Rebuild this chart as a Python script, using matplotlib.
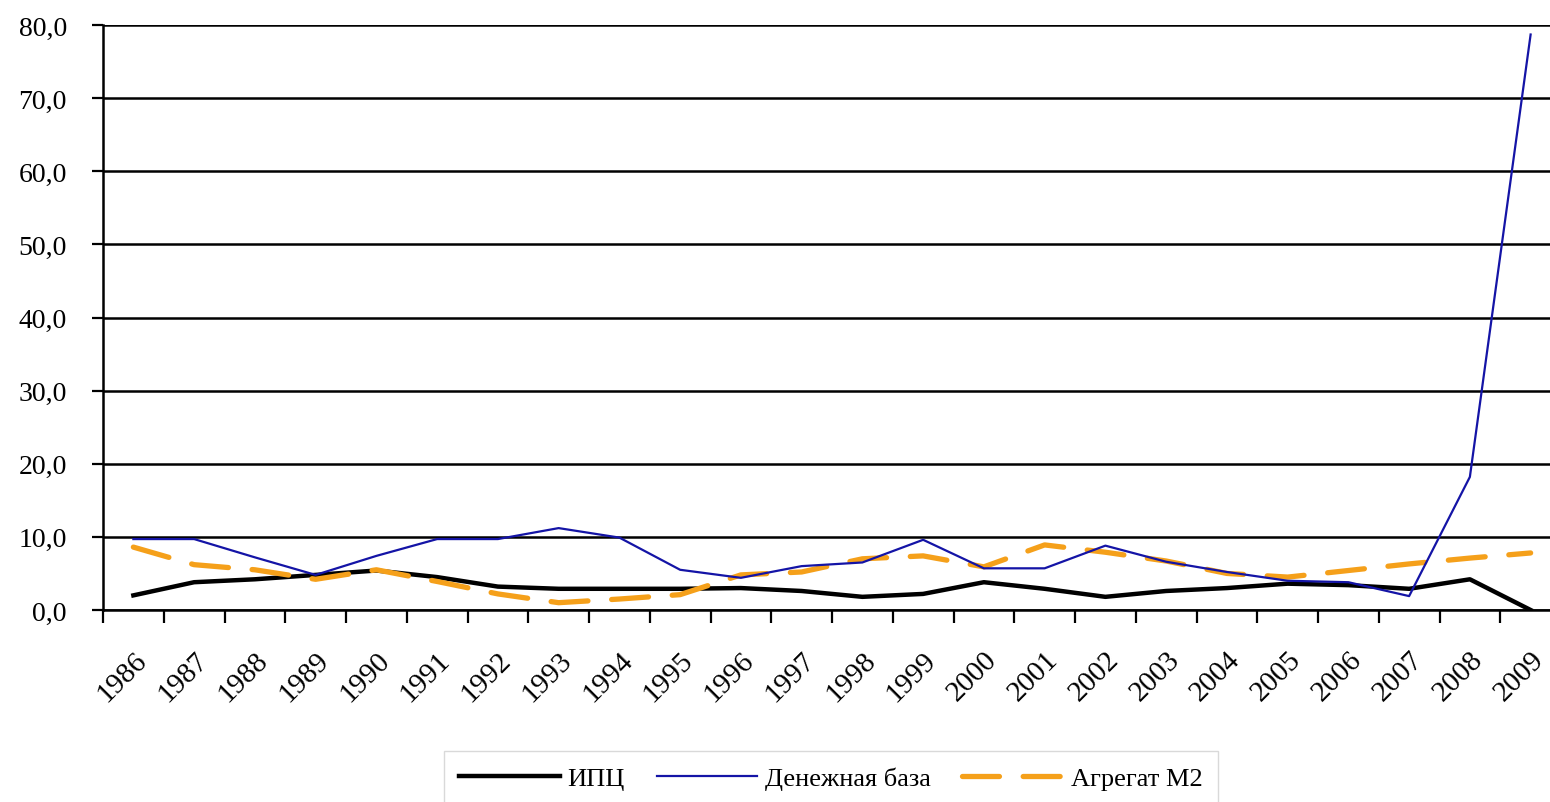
import numpy as np
from matplotlib import pyplot as plt

# Годы и ряды (темпы, %)
years = [str(y) for y in range(1986, 2010)]
cpi = [2.0, 3.8, 4.2, 4.8, 5.4, 4.5, 3.2, 2.9, 2.9, 2.9, 3.0, 2.6,
       1.8, 2.2, 3.8, 2.9, 1.8, 2.6, 3.0, 3.6, 3.4, 2.9, 4.2, 0.0]
money_base = [9.7, 9.7, 7.2, 4.8, 7.4, 9.7, 9.7, 11.2, 9.9, 5.5, 4.4, 6.0,
              6.5, 9.6, 5.7, 5.7, 8.8, 6.6, 5.2, 4.0, 3.8, 1.9, 18.2, 78.7]
m2 = [8.6, 6.2, 5.5, 4.2, 5.5, 3.9, 2.2, 1.0, 1.5, 2.1, 4.8, 5.2,
      7.0, 7.4, 5.9, 8.9, 7.9, 6.7, 5.0, 4.5, 5.4, 6.3, 7.1, 7.8]
labels = ['ИПЦ', 'Денежная база', 'Агрегат М2']
yticks = np.arange(0, 81, 10)

plt.rcParams['font.family'] = ['Liberation Serif', 'DejaVu Serif']

fig = plt.figure(figsize=(15.5, 8.03), dpi=100)
# правый край оси выходит за рамку, как на исходной картинке
ax = fig.add_axes([103/1550, 1 - 611/803, 1458/1550, 585/803])

x = np.arange(len(years))
ax.plot(x, cpi, color='black', lw=3.2, label=labels[0], zorder=3,
        solid_joinstyle='round')
ax.plot(x, money_base, color='#1414a6', lw=1.6, label=labels[1], zorder=4)
ax.plot(x, m2, color='#f5a01a', lw=3.8, label=labels[2], zorder=3,
        dashes=(7.0, 4.5), dash_capstyle='round')

ax.set_xlim(-0.5, len(years) - 0.5)
ax.set_ylim(0, 80)
ax.set_yticks(yticks)
ax.set_yticklabels(['{:.1f}'.format(v).replace('.', ',') for v in yticks],
                   fontsize=20)
ax.yaxis.grid(True, color='black', lw=1.8)
ax.set_axisbelow(True)

ax.set_xticks(x)
ax.set_xticklabels(years, rotation=45, ha='right', va='top',
                   rotation_mode='anchor', fontsize=21)
ax.set_xticks(np.arange(-0.5, len(years)), minor=True)
ax.tick_params(axis='x', which='major', length=0, pad=26)
ax.tick_params(axis='x', which='minor', length=9, width=1.6, direction='out')
ax.tick_params(axis='y', length=8, width=1.6, direction='out', pad=18)

for s in ['top', 'right']:
    ax.spines[s].set_visible(False)
for s in ['left', 'bottom']:
    ax.spines[s].set_linewidth(1.8)

leg = fig.legend(loc='upper center', bbox_to_anchor=(0.536, 1 - 752/803),
                 ncol=3, fontsize=19, frameon=True, fancybox=False,
                 handlelength=3.8, handletextpad=0.3, columnspacing=1.2,
                 borderpad=0.6, borderaxespad=0)
leg.get_frame().set_edgecolor('#d0d0d0')
leg.get_frame().set_linewidth(1.0)

fig.savefig('out.png', dpi=100)
